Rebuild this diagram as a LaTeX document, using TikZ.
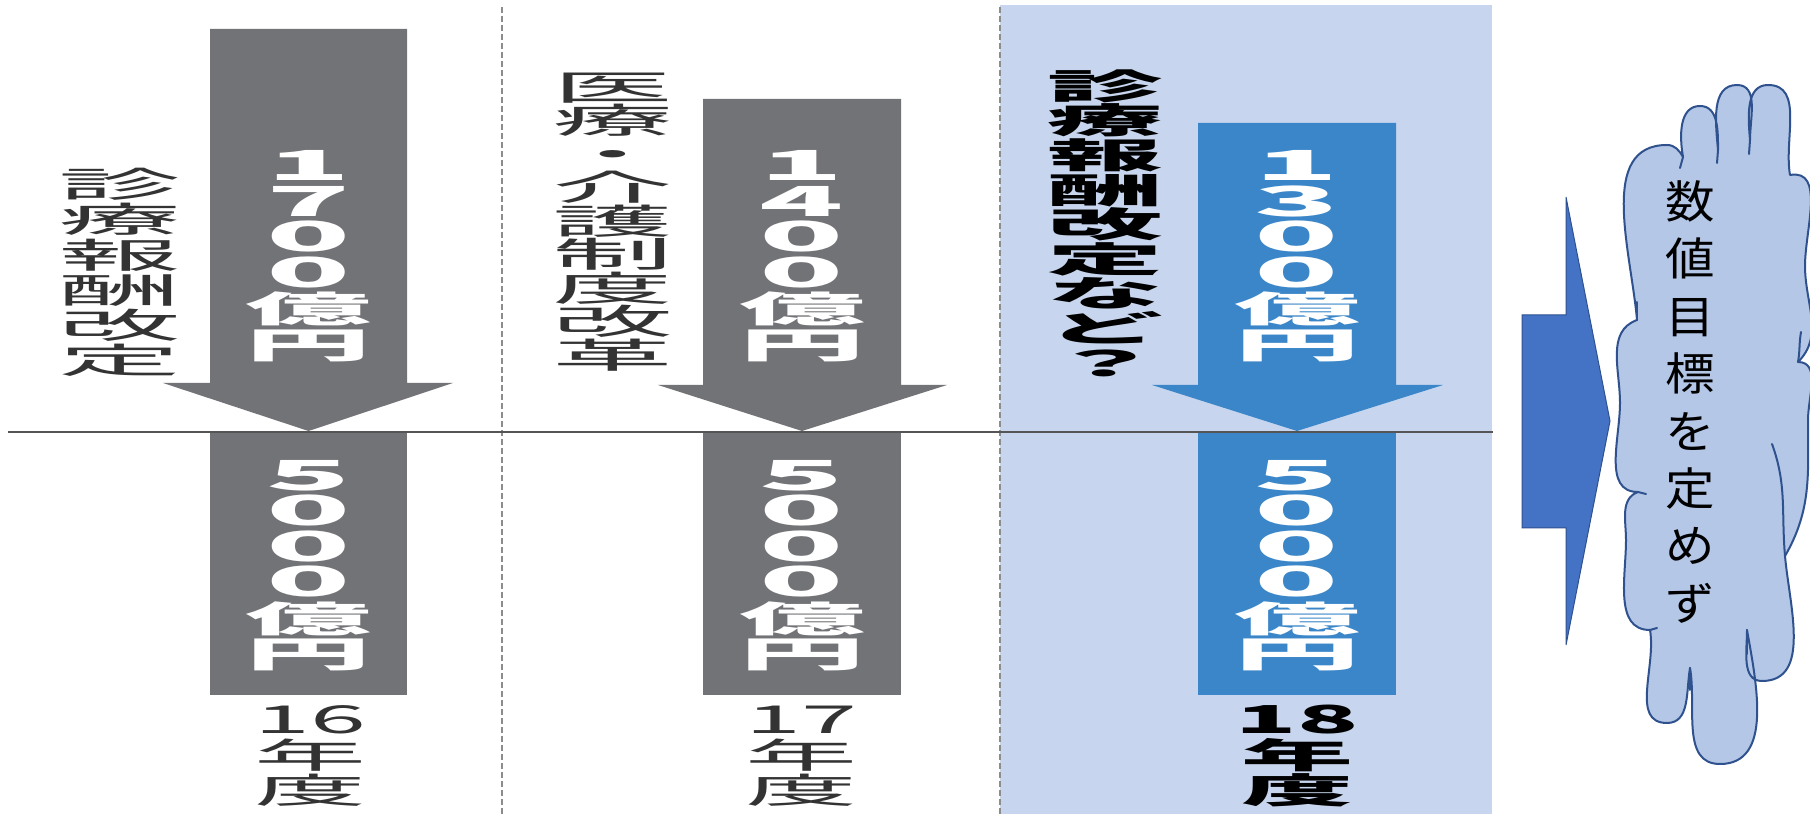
\documentclass[tikz,border=0pt]{standalone}
\usepackage{fontspec}
\usepackage{graphicx}
\newfontfamily\jp{Noto Sans CJK JP}
\definecolor{grayarrow}{HTML}{727376}
\definecolor{bluearrow}{HTML}{3A86C8}
\definecolor{panel}{HTML}{C7D6EE}
\definecolor{txtgray}{HTML}{333333}
\definecolor{blockblue}{HTML}{4472C4}
\definecolor{blockedge}{HTML}{2F528F}
\definecolor{cloudfill}{HTML}{B4C7E7}
\definecolor{dashgray}{HTML}{8C8C8C}
\definecolor{linegray}{HTML}{555555}
\newcommand\VT[3]{\scalebox{#1}[1]{\vbox{\baselineskip=#2\lineskiplimit=-500pt\lineskip=0pt\relax #3}}}
\newcommand\Cc[1]{\hbox to 1em{\hss#1\hss}}
\newcommand\DD[1]{\scalebox{1.1}[1.15]{#1}}
\begin{document}
\begin{tikzpicture}[x=1pt,y=1pt,
  wnum/.style={text=white, font=\jp\bfseries\fontsize{36}{36}\selectfont, inner sep=0pt},
  lab/.style={text=txtgray, font=\jp\fontsize{35}{35}\selectfont, inner sep=0pt},
  labb/.style={text=black, font=\jp\bfseries\fontsize{35}{35}\selectfont, inner sep=0pt},
  ctxt/.style={text=black, font=\jp\fontsize{45}{45}\selectfont, inner sep=0pt},
  sep/.style={draw=dashgray, line width=2pt, dash pattern=on 6pt off 3pt},
  cloudst/.style={fill=cloudfill, draw=blockedge, line width=2pt, line join=round},
  cloudin/.style={draw=blockedge, line width=2pt, line cap=round}]
\useasboundingbox (0,0) rectangle (1810,814);
\fill[white] (0,0) rectangle (1810,814);
% panel for 18
\fill[panel] (1000,0) rectangle (1492,809);
% separators
\draw[sep] (502,0) -- (502,809);
\draw[sep] (1000,0) -- (1000,809);
% column arrows
\fill[grayarrow] (210,785) -- (407,785) -- (407,431) -- (453,431) -- (308.5,383) -- (163,431) -- (210,431) -- cycle;
\fill[grayarrow] (210,119) rectangle (407,381);
\fill[grayarrow] (703,715) -- (901,715) -- (901,429) -- (947,429) -- (802,383) -- (658,429) -- (703,429) -- cycle;
\fill[grayarrow] (703,119) rectangle (901,381);
\fill[bluearrow] (1198,691) -- (1396,691) -- (1396,429) -- (1443,429) -- (1297,383) -- (1152,429) -- (1198,429) -- cycle;
\fill[bluearrow] (1198,119) rectangle (1396,381);
% base line
\draw[linegray, line width=2pt] (8,382) -- (1493,382);
% white amounts
\node[wnum] (w1a) at (308.5,558) {\VT{3.5}{35.5pt}{\Cc{\DD{1}}\Cc{\DD{7}}\Cc{\DD{0}}\Cc{\DD{0}}\Cc{億}\Cc{円}}};
\node[wnum] (w1b) at (308.5,248.5) {\VT{3.5}{35.5pt}{\Cc{\DD{5}}\Cc{\DD{0}}\Cc{\DD{0}}\Cc{\DD{0}}\Cc{億}\Cc{円}}};
\node[wnum] (w2a) at (802,558) {\VT{3.5}{35.5pt}{\Cc{\DD{1}}\Cc{\DD{4}}\Cc{\DD{0}}\Cc{\DD{0}}\Cc{億}\Cc{円}}};
\node[wnum] (w2b) at (802,248.5) {\VT{3.5}{35.5pt}{\Cc{\DD{5}}\Cc{\DD{0}}\Cc{\DD{0}}\Cc{\DD{0}}\Cc{億}\Cc{円}}};
\node[wnum] (w3a) at (1297,558) {\VT{3.5}{35.5pt}{\Cc{\DD{1}}\Cc{\DD{3}}\Cc{\DD{0}}\Cc{\DD{0}}\Cc{億}\Cc{円}}};
\node[wnum] (w3b) at (1297,248.5) {\VT{3.5}{35.5pt}{\Cc{\DD{5}}\Cc{\DD{0}}\Cc{\DD{0}}\Cc{\DD{0}}\Cc{億}\Cc{円}}};
% side labels
\node[lab] (l1) at (120,541.5) {\VT{3.5}{35.2pt}{\Cc{診}\Cc{療}\Cc{報}\Cc{酬}\Cc{改}\Cc{定}}};
\node[lab] (l2) at (612.5,592) {\VT{3.45}{33.5pt}{\Cc{医}\Cc{療}\Cc{・}\Cc{介}\Cc{護}\Cc{制}\Cc{度}\Cc{改}\Cc{革}}};
\node[labb] (l3) at (1105,591) {\VT{3.3}{34.6pt}{\Cc{診}\Cc{療}\Cc{報}\Cc{酬}\Cc{改}\Cc{定}\Cc{な}\Cc{ど}\Cc{？}}};
% years
\node[lab] (y1) at (310,58) {\VT{3.2}{35pt}{\Cc{\scalebox{0.9}[1.1]{16}}\Cc{年}\Cc{度}}};
\node[lab] (y2) at (801,58) {\VT{3.2}{35pt}{\Cc{\scalebox{0.9}[1.1]{17}}\Cc{年}\Cc{度}}};
\node[labb] (y3) at (1297,58) {\VT{3.2}{35pt}{\Cc{\scalebox{0.9}[1.1]{18}}\Cc{年}\Cc{度}}};
% block arrow
\path[fill=blockblue, draw=blockedge, line width=1pt] (1522,499) -- (1566,499) -- (1566,617) -- (1610,393) -- (1566,169) -- (1566,286) -- (1522,286) -- cycle;
% cloud
\path[cloudst] (1637,494)
  to[out=95,in=180] (1667,669)
  to[out=0,in=120] (1683,657)
  to[out=100,in=180] (1700,708)
  to[out=0,in=90] (1718,664)
  to[out=95,in=180] (1737,729)
  to[out=0,in=90] (1750,674)
  to[out=95,in=180] (1768,729)
  to[out=0,in=100] (1790,639)
  to[out=10,in=90] (1805,548)
  to[out=-90,in=45] (1798,452)
  to[out=0,in=90] (1808,394)
  to[out=-90,in=60] (1785,258)
  to[out=-85,in=0] (1762,133)
  to[out=180,in=-90] (1747,184)
  to[out=-80,in=0] (1720,50)
  to[out=180,in=-80] (1690,146)
  to[out=-100,in=0] (1667,91)
  to[out=180,in=-80] (1650,184)
  to[out=180,in=-90] (1626,274)
  to[out=90,in=200] (1638,322)
  to[out=180,in=-90] (1620,411)
  to[out=90,in=200] (1637,494)
  -- cycle;
\draw[cloudin] (1718,664) -- (1717,651);
\draw[cloudin] (1750,674) -- (1749,660);
\draw[cloudin] (1683,657) -- (1680,646);
\draw[cloudin] (1798,452) to[out=80,in=-100] (1801,482);
\draw[cloudin] (1772,370) to[out=-70,in=95] (1785,258);
\draw[cloudin] (1747,184) -- (1747,160);
\draw[cloudin] (1690,146) -- (1690,124);
\draw[cloudin] (1650,184) -- (1657,186);
\draw[cloudin] (1638,322) -- (1646,320);
\draw[cloudin] (1637,494) -- (1637,512);
\node[ctxt] (ct) at (1690,412) {\VT{1.1}{57.4pt}{\Cc{数}\Cc{値}\Cc{目}\Cc{標}\Cc{を}\Cc{定}\Cc{め}\Cc{ず}}};
\end{tikzpicture}
\end{document}
